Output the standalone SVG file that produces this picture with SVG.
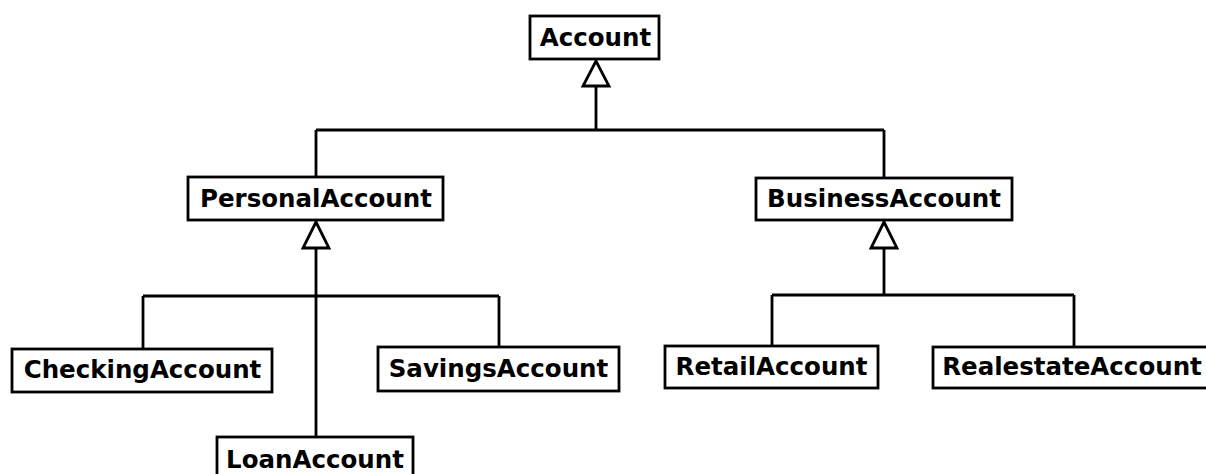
<svg xmlns="http://www.w3.org/2000/svg" width="1206" height="474" viewBox="0 0 1206 474">
<style>
.box{fill:#fff;stroke:#000;stroke-width:2.8}
.lbl{font-family:"DejaVu Sans",sans-serif;font-weight:bold;font-size:24.5px;fill:#000;text-anchor:middle}
.edge{fill:none;stroke:#000;stroke-width:2.8}
.tri{fill:#fff;stroke:#000;stroke-width:2.8;stroke-linejoin:miter}
</style>
<rect width="1206" height="474" fill="#fff"/>
<g id="connectors">
<path class="edge" d="M596 86 V130 M316 130 H884 M316 130 V178 M884 130 V178"/>
<path class="edge" d="M316 248 V437 M143 296 H499 M143 296 V349 M499 296 V347"/>
<path class="edge" d="M884 248 V295 M772 295 H1074 M772 295 V346 M1074 295 V347"/>
<polygon class="tri" points="596,61 583,86 609,86"/>
<polygon class="tri" points="316,222 303,248 329,248"/>
<polygon class="tri" points="884,222 871,248 897,248"/>
</g>
<g id="Account"><rect class="box" x="530" y="16" width="129" height="43"/><text class="lbl" x="595.5" y="46">Account</text></g>
<g id="PersonalAccount"><rect class="box" x="188" y="177" width="255" height="43"/><text class="lbl" x="316" y="207">PersonalAccount</text></g>
<g id="BusinessAccount"><rect class="box" x="756" y="178" width="256" height="42"/><text class="lbl" x="884" y="207">BusinessAccount</text></g>
<g id="CheckingAccount"><rect class="box" x="12" y="349" width="260" height="43"/><text class="lbl" x="142.5" y="378">CheckingAccount</text></g>
<g id="SavingsAccount"><rect class="box" x="378" y="347" width="241" height="44"/><text class="lbl" x="498.5" y="377">SavingsAccount</text></g>
<g id="LoanAccount"><rect class="box" x="217" y="437" width="196" height="45"/><text class="lbl" x="315" y="468">LoanAccount</text></g>
<g id="RetailAccount"><rect class="box" x="665" y="346" width="213" height="42"/><text class="lbl" x="771.5" y="375">RetailAccount</text></g>
<g id="RealestateAccount"><rect class="box" x="933" y="347" width="290" height="41"/><text class="lbl" x="1072" y="375">RealestateAccount</text></g>
</svg>
